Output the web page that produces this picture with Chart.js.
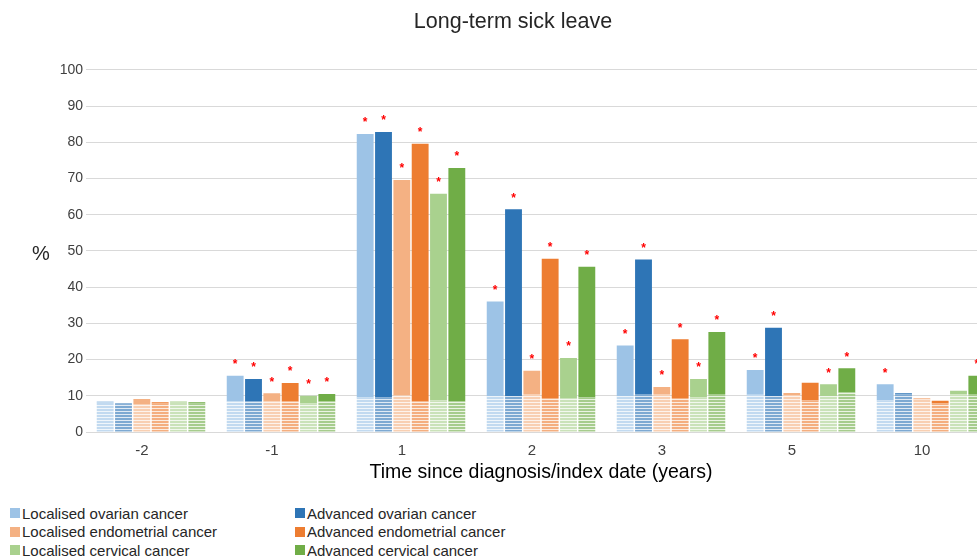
<!DOCTYPE html>
<html>
<head>
<meta charset="utf-8">
<title>Long-term sick leave</title>
<script src="https://cdn.jsdelivr.net/npm/chart.js@4.4.1/dist/chart.umd.min.js"></script>
<style>
  html, body { margin: 0; padding: 0; background: #fff; overflow: hidden; }
  body { width: 977px; height: 559px; position: relative; font-family: "Liberation Sans", Arial, sans-serif; }
  #wrap { position: absolute; left: 0; top: 0; width: 1010px; height: 490px; }
  #yUnit { position: absolute; left: 32px; top: 243px; font-size: 20px; line-height: 20px; color: #262626; }
  #legend { position: absolute; left: 10px; top: 504px; display: grid; grid-template-columns: 285px 300px; font-size: 15px; color: #262626; }
  .item { display: flex; align-items: center; height: 18.5px; white-space: nowrap; }
  .box { width: 10px; height: 10px; margin-right: 2px; }
</style>
</head>
<body>
<div id="wrap"><canvas id="chart"></canvas></div>
<div id="yUnit">%</div>
<div id="legend"></div>

<script>
// categories (years since diagnosis)
const categories = ['-2', '-1', '1', '2', '3', '5', '10'];

// % on long-term sick leave, cancer groups
const locOvarian     = [8.4, 15.5, 82.3, 36.0, 23.9, 17.1, 13.2];
const advOvarian     = [7.9, 14.6, 82.8, 61.5, 47.6, 28.8, 10.7];
const locEndometrial = [9.1, 10.7, 69.6, 16.9, 12.4, 10.8, 9.3];
const advEndometrial = [8.2, 13.5, 79.6, 47.8, 25.6, 13.6, 8.6];
const locCervical    = [8.4, 10.0, 65.8, 20.4, 14.6, 13.2, 11.4];
const advCervical    = [8.2, 10.5, 72.9, 45.6, 27.6, 17.6, 15.5];

// comparison group (striped part at the bottom of each bar)
const refLocOvarian     = [8.1, 8.4, 9.5, 9.9, 9.9, 10.3, 8.8];
const refAdvOvarian     = [7.6, 8.4, 9.5, 9.9, 10.5, 9.9, 10.4];
const refLocEndometrial = [7.7, 8.4, 10.1, 10.5, 10.5, 10.2, 9.0];
const refAdvEndometrial = [7.9, 8.4, 8.4, 9.4, 9.4, 8.8, 7.9];
const refLocCervical    = [8.1, 7.9, 8.8, 9.4, 9.6, 9.9, 10.4];
const refAdvCervical    = [7.9, 8.4, 8.4, 9.6, 10.5, 10.9, 10.5];

// significance (red asterisk)
const sigLocOvarian     = [false, true, true, true, true, true, true];
const sigAdvOvarian     = [false, true, true, true, true, true, false];
const sigLocEndometrial = [false, true, true, true, true, false, false];
const sigAdvEndometrial = [false, true, true, true, true, false, false];
const sigLocCervical    = [false, true, true, true, true, true, false];
const sigAdvCervical    = [false, true, true, true, true, true, true];

const seriesLabels = [
  'Localised ovarian cancer', 'Advanced ovarian cancer',
  'Localised endometrial cancer', 'Advanced endometrial cancer',
  'Localised cervical cancer', 'Advanced cervical cancer'
];
const seriesColors = ['#9dc3e6', '#2e75b6', '#f4b183', '#ed7d31', '#a9d18e', '#70ad47'];
const seriesValues = [locOvarian, advOvarian, locEndometrial, advEndometrial, locCervical, advCervical];
const seriesRefs = [refLocOvarian, refAdvOvarian, refLocEndometrial, refAdvEndometrial, refLocCervical, refAdvCervical];
const seriesSig = [sigLocOvarian, sigAdvOvarian, sigLocEndometrial, sigAdvEndometrial, sigLocCervical, sigAdvCervical];

const FONT = '"Liberation Sans", Arial, sans-serif';

// lighter version of the series colour with white horizontal lines
function stripePattern(hex) {
  const r = parseInt(hex.slice(1, 3), 16), g = parseInt(hex.slice(3, 5), 16), b = parseInt(hex.slice(5, 7), 16);
  const mix = (v, t) => Math.round(v + (255 - v) * t);
  const p = document.createElement('canvas');
  p.width = 4; p.height = 3;
  const pc = p.getContext('2d');
  pc.fillStyle = `rgb(${mix(r, 0.38)},${mix(g, 0.38)},${mix(b, 0.38)})`;
  pc.fillRect(0, 0, 4, 3);
  pc.fillStyle = `rgb(${mix(r, 0.85)},${mix(g, 0.85)},${mix(b, 0.85)})`;
  pc.fillRect(0, 0, 4, 1);
  return pc.createPattern(p, 'repeat');
}

const CAT_PCT = 0.846;
const BAR_PCT = 0.92;

// one stack per series: striped comparison part at the bottom, rest on top
const datasets = [];
seriesValues.forEach((vals, i) => {
  datasets.push({
    label: seriesLabels[i] + ' (comparison)',
    data: seriesRefs[i],
    backgroundColor: stripePattern(seriesColors[i]),
    stack: 's' + i,
    categoryPercentage: CAT_PCT,
    barPercentage: BAR_PCT
  });
  datasets.push({
    label: seriesLabels[i],
    data: vals.map((v, j) => v - seriesRefs[i][j]),
    backgroundColor: seriesColors[i],
    stack: 's' + i,
    categoryPercentage: CAT_PCT,
    barPercentage: BAR_PCT
  });
});

// red asterisks above significant bars
const starPlugin = {
  id: 'stars',
  afterDatasetsDraw(chart) {
    const c = chart.ctx;
    c.save();
    c.fillStyle = '#ff0000';
    c.font = 'bold 12px ' + FONT;
    c.textAlign = 'center';
    c.textBaseline = 'middle';
    seriesSig.forEach((flags, i) => {
      const meta = chart.getDatasetMeta(2 * i + 1);
      meta.data.forEach((bar, j) => {
        if (flags[j]) c.fillText('*', bar.x, bar.y - 11);
      });
    });
    c.restore();
  }
};

new Chart(document.getElementById('chart').getContext('2d'), {
  type: 'bar',
  data: { labels: categories, datasets: datasets },
  options: {
    responsive: true,
    maintainAspectRatio: false,
    animation: false,
    layout: { padding: { left: 30, right: 14, top: 0, bottom: 0 } },
    plugins: {
      legend: { display: false },
      tooltip: { enabled: false },
      title: {
        display: true,
        text: 'Long-term sick leave',
        color: '#262626',
        font: { family: FONT, size: 21.5, weight: 'normal' },
        padding: { top: 9, bottom: 35 }
      }
    },
    scales: {
      x: {
        stacked: true,
        grid: { display: false },
        border: { color: '#d9d9d9' },
        ticks: { color: '#404040', font: { family: FONT, size: 15 }, labelOffset: -9, padding: 2 },
        title: {
          display: true,
          text: 'Time since diagnosis/index date (years)',
          color: '#000',
          font: { family: FONT, size: 19.5 },
          padding: { top: 4, bottom: 6 }
        },
        afterFit(s) { s.height = 58; }
      },
      y: {
        stacked: true,
        min: 0,
        max: 100,
        ticks: { stepSize: 10, color: '#404040', font: { family: FONT, size: 14 }, padding: 3 },
        grid: { color: '#d9d9d9', drawTicks: false },
        border: { display: false },
        afterFit(s) { s.width = 56; }
      }
    }
  },
  plugins: [starPlugin]
});

// legend: two columns, three rows
const legend = document.getElementById('legend');
seriesLabels.forEach((lab, i) => {
  const item = document.createElement('div');
  item.className = 'item';
  const box = document.createElement('span');
  box.className = 'box';
  box.style.background = seriesColors[i];
  item.appendChild(box);
  item.appendChild(document.createTextNode(lab));
  legend.appendChild(item);
});
</script>
</body>
</html>
